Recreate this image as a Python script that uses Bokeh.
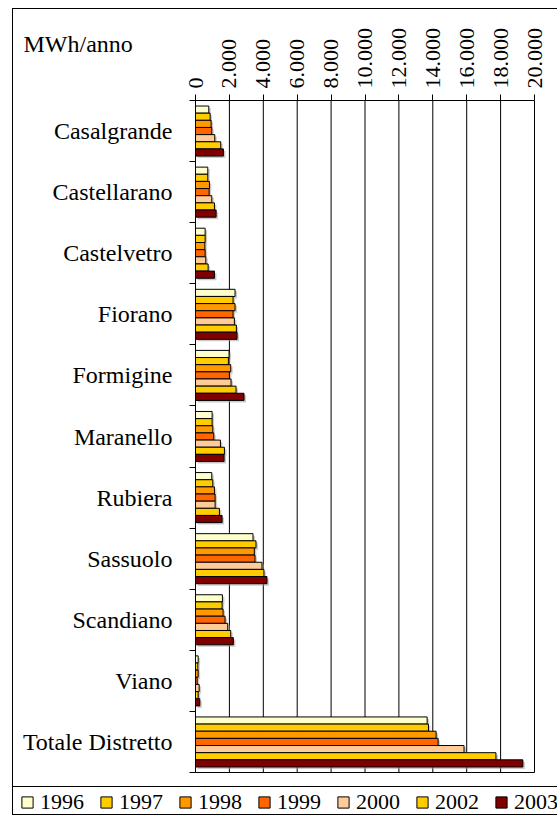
from bokeh.plotting import figure
from bokeh.models import (ColumnDataSource, Range1d, FixedTicker, Legend, LegendItem,
                          Label, LinearAxis)
from bokeh.transform import dodge
from bokeh.embed import file_html
from bokeh.resources import INLINE

# ---------------- data ----------------
comuni = ["Casalgrande", "Castellarano", "Castelvetro", "Fiorano", "Formigine",
          "Maranello", "Rubiera", "Sassuolo", "Scandiano", "Viano", "Totale Distretto"]
years = ["1996", "1997", "1998", "1999", "2000", "2002", "2003"]
v1996 = [784, 725, 569, 2333, 1980, 980, 961, 3392, 1588, 157, 13667]
v1997 = [863, 725, 569, 2216, 1941, 980, 1020, 3569, 1569, 137, 13745]
v1998 = [922, 824, 549, 2333, 2078, 1020, 1118, 3471, 1627, 157, 14196]
v1999 = [961, 804, 569, 2216, 2000, 1078, 1157, 3510, 1745, 100, 14314]
v2000 = [1137, 961, 608, 2294, 2098, 1471, 1157, 3922, 1902, 216, 15843]
v2002 = [1490, 1118, 745, 2412, 2392, 1706, 1412, 4039, 2078, 157, 17725]
v2003 = [1647, 1216, 1118, 2451, 2863, 1686, 1569, 4216, 2235, 255, 19314]
series = [v1996, v1997, v1998, v1999, v2000, v2002, v2003]
colors = ["#FFFFCC", "#FFCC00", "#FF9900", "#FF6600", "#FFCC99", "#FFCC00", "#800000"]
x_ticks = list(range(0, 20001, 2000))
unit_label = "MWh/anno"

FONT = "Liberation Serif"
FS = "22px"       # numbers
FS_TXT = "24px"   # words

# ---------------- layout constants (pixels) ----------------
W, H = 557, 816
BOX_L, BOX_T, BOX_B = 12, 8, 814          # outer chart box (also the plot frame)
AX_L, AX_R, AX_T, AX_B = 195, 534, 100, 772  # value/category area
LEG_SEP = 786

n = len(comuni)
xmin, xmax = x_ticks[0], x_ticks[-1]
xpp = (xmax - xmin) / (AX_R - AX_L)
ypp = n / (AX_B - AX_T)
x_range = Range1d(xmin - (AX_L - BOX_L) * xpp, xmax + (W - AX_R) * xpp)
y_range = Range1d(n - 0.5 + (BOX_B - AX_B) * ypp, -0.5 - (AX_T - BOX_T) * ypp)

idx = list(range(n))
data = {"idx": idx}
shadow_dx = 2 * xpp
for y, s in zip(years, series):
    data["y" + y] = s
    data["s" + y] = [v + shadow_dx for v in s]
src = ColumnDataSource(data)

p = figure(width=W, height=H, output_backend="svg", toolbar_location=None,
           x_range=x_range, y_range=y_range,
           x_axis_location=None, y_axis_location=None,
           min_border_left=BOX_L, min_border_right=0, min_border_top=BOX_T,
           min_border_bottom=H - BOX_B)
p.outline_line_color = None
p.background_fill_color = None
p.border_fill_color = None
p.grid.visible = False

# outer chart box and legend row lines drawn as CSS background lines
frame_lines = [(BOX_L, BOX_T, 1, BOX_B - BOX_T + 1), (BOX_L, BOX_T, W - BOX_L, 1),
               (BOX_L, LEG_SEP, W - BOX_L, 1), (BOX_L, BOX_B, W - BOX_L, 1)]
p.styles = {
    "background-color": "white",
    "background-image": ", ".join(["linear-gradient(#000, #000)"] * len(frame_lines)),
    "background-position": ", ".join(f"{a}px {b}px" for a, b, _, _ in frame_lines),
    "background-size": ", ".join(f"{w}px {h}px" for _, _, w, h in frame_lines),
    "background-repeat": "no-repeat",
}

# vertical gridlines and the bottom border of the value area
p.segment(x0=x_ticks, x1=x_ticks, y0=[-0.5] * len(x_ticks), y1=[n - 0.5] * len(x_ticks),
          line_color="black", line_width=1, level="underlay")
p.segment(x0=[xmin], x1=[xmax], y0=[n - 0.5], y1=[n - 0.5],
          line_color="black", line_width=1, level="underlay")

bh = 0.117
# shadows
for j, y in enumerate(years):
    off = (j - 3) * bh
    p.hbar(y=dodge("idx", off + 2 * ypp), left=shadow_dx, right="s" + y, height=bh, source=src,
           fill_color="#a0a0a0", fill_alpha=0.55, line_color=None)
renderers = []
for j, (y, c) in enumerate(zip(years, colors)):
    off = (j - 3) * bh
    r = p.hbar(y=dodge("idx", off), left=0, right="y" + y, height=bh, source=src,
               fill_color=c, line_color="black", line_width=1)
    renderers.append(r)

# x axis (top of the value area)
xa = LinearAxis(fixed_location=-0.5, bounds=(xmin, xmax))
xa.ticker = FixedTicker(ticks=x_ticks, minor_ticks=[])
xa.major_label_overrides = {t: f"{t:,}".replace(",", ".") for t in x_ticks}
xa.major_label_orientation = "vertical"
xa.major_label_text_font = FONT
xa.major_label_text_font_size = FS
xa.major_label_text_color = "black"
xa.major_tick_out = 6
xa.major_tick_in = 0
xa.major_tick_line_color = "black"
xa.minor_tick_line_color = None
xa.major_label_standoff = 6
xa.axis_line_color = "black"
p.add_layout(xa, "above")

# y axis (categories)
ya = LinearAxis(fixed_location=0, bounds=(-0.5, n - 0.5))
ya.ticker = FixedTicker(ticks=idx, minor_ticks=[i - 0.5 for i in range(n + 1)])
ya.major_label_overrides = {i: c for i, c in zip(idx, comuni)}
ya.major_tick_line_color = None
ya.major_tick_out = 0
ya.major_tick_in = 0
ya.minor_tick_line_color = "black"
ya.minor_tick_out = 6
ya.minor_tick_in = 0
ya.major_label_standoff = 17
ya.major_label_text_font = FONT
ya.major_label_text_font_size = FS_TXT
ya.major_label_text_color = "black"
ya.axis_line_color = "black"
p.add_layout(ya, "left")

# unit label
p.add_layout(Label(x=23 - BOX_L, y=BOX_B - 43, x_units="screen", y_units="screen",
                   text=unit_label, text_font=FONT, text_font_size=FS_TXT,
                   text_color="black", text_baseline="alphabetic"))

legend = Legend(items=[LegendItem(label=y, renderers=[r]) for y, r in zip(years, renderers)],
                orientation="horizontal", location=(8, -1),
                glyph_width=14, glyph_height=14, label_standoff=6, spacing=15,
                padding=1, margin=0, border_line_color=None, background_fill_alpha=0,
                label_text_font=FONT, label_text_font_size=FS, label_text_color="black")
p.add_layout(legend)

open("out.html", "w").write(file_html(p, INLINE))
